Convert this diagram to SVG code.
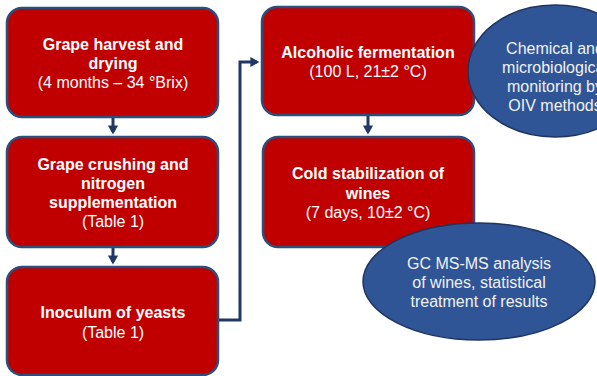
<svg xmlns="http://www.w3.org/2000/svg" width="597" height="376" viewBox="0 0 597 376">
<style>
.box{fill:#C00000;stroke:#2B4F7A;stroke-width:2.5}
.ell{fill:#2F5597;stroke:#1F3560;stroke-width:1.5}
.con{fill:none;stroke:#1F3864;stroke-width:3}
text{font-family:"Liberation Sans",Arial,sans-serif;font-size:16px;text-anchor:middle;fill:#FFFFFF}
.b{font-weight:bold}
.et{fill:#F2F2F2}
</style>
<defs>
<marker id="ah" markerWidth="4" markerHeight="4" refX="2.2" refY="2" orient="auto" markerUnits="strokeWidth">
<path d="M0,0.3 L3,2 L0,3.7 Z" fill="#1F3864"/>
</marker>
</defs>
<rect width="597" height="376" fill="#FFFFFF"/>
<g id="connectors">
<line class="con" x1="113" y1="118" x2="113" y2="132" marker-end="url(#ah)"/>
<line class="con" x1="113" y1="248" x2="113" y2="262" marker-end="url(#ah)"/>
<polyline class="con" points="219,320 240,320 240,62 257,62" marker-end="url(#ah)"/>
<line class="con" x1="368" y1="116" x2="368" y2="132" marker-end="url(#ah)"/>
</g>
<g id="n1">
<rect class="box" x="7" y="8" width="211" height="109" rx="15"/>
<text class="b" x="113" y="50">Grape harvest and</text>
<text class="b" x="113" y="69">drying</text>
<text x="113" y="88">(4 months – 34 °Brix)</text>
</g>
<g id="n2">
<rect class="box" x="7" y="137" width="211" height="110" rx="15"/>
<text class="b" x="113" y="170">Grape crushing and</text>
<text class="b" x="113" y="189">nitrogen</text>
<text class="b" x="113" y="208">supplementation</text>
<text x="113" y="227">(Table 1)</text>
</g>
<g id="n3">
<rect class="box" x="7" y="267" width="211" height="108" rx="15"/>
<text class="b" x="113" y="318">Inoculum of yeasts</text>
<text x="113" y="338">(Table 1)</text>
</g>
<g id="n4">
<rect class="box" x="262" y="7" width="212" height="108" rx="15"/>
<text class="b" x="368" y="58">Alcoholic fermentation</text>
<text x="368" y="77">(100 L, 21±2 °C)</text>
</g>
<g id="n5">
<rect class="box" x="263" y="137" width="211" height="110" rx="15"/>
<text class="b" x="368" y="179">Cold stabilization of</text>
<text class="b" x="368" y="199">wines</text>
<text x="368" y="218">(7 days, 10±2 °C)</text>
</g>
<g id="e1">
<ellipse class="ell" cx="555" cy="71" rx="87" ry="66"/>
<text class="et" x="555" y="54">Chemical and</text>
<text class="et" x="555" y="73">microbiological</text>
<text class="et" x="555" y="92">monitoring by</text>
<text class="et" x="555" y="111">OIV methods</text>
</g>
<g id="e2">
<ellipse class="ell" cx="479" cy="281.5" rx="116" ry="58.5"/>
<text class="et" x="479" y="269">GC MS-MS analysis</text>
<text class="et" x="479" y="288">of wines, statistical</text>
<text class="et" x="479" y="307">treatment of results</text>
</g>
</svg>
